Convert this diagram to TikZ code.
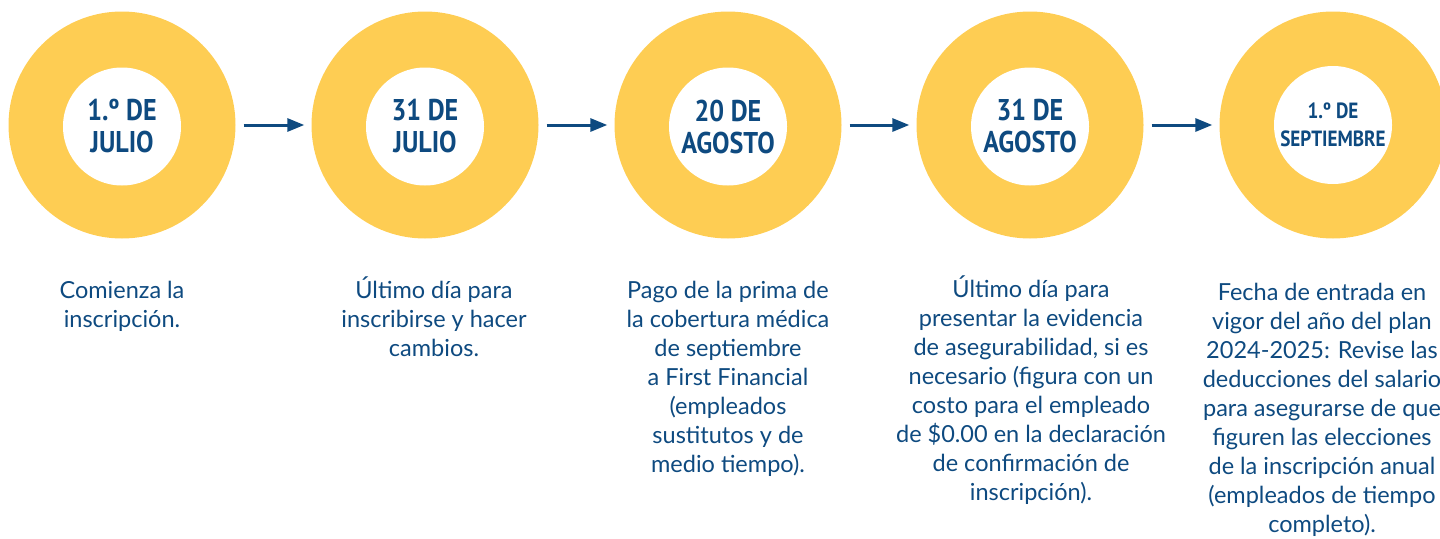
\documentclass[tikz,border=0pt]{standalone}
\usepackage{fontspec}
\setmainfont{Lato}
\newfontfamily\datefont[FakeStretch=0.87]{PT Sans}
\usetikzlibrary{arrows.meta}
\definecolor{gold}{RGB}{254,205,83}
\definecolor{navy}{RGB}{14,74,128}

\begin{document}
\begin{tikzpicture}[x=1pt, y=-1pt, >={Triangle[length=17pt,width=13pt]}]
\tikzstyle{ring}=[circle, fill=gold, minimum size=227pt, inner sep=0pt]
\tikzstyle{hole}=[circle, fill=white, minimum size=118pt, inner sep=0pt, text=navy, align=center, font=\datefont\bfseries\fontsize{30}{32}\selectfont]
\tikzstyle{note}=[anchor=base, align=center, inner sep=0pt, text=navy, font=\fontsize{23.5}{29}\selectfont]
\tikzstyle{link}=[line width=3pt, ->, color=navy, shorten <=8pt, shorten >=7pt]
\useasboundingbox (0,0) rectangle (1440,538);

% the five dates
\node[ring] (r1) at (122,125)  {};
\node[ring] (r2) at (425,125)  {};
\node[ring] (r3) at (728,125)  {};
\node[ring] (r4) at (1030,125) {};
\node[ring] (r5) at (1333,125) {};
\node[hole] (d1) at ([yshift=-1.5pt]r1) {1.º DE\\JULIO};
\node[hole] (d2) at ([yshift=-1.5pt]r2) {31 DE\\JULIO};
\node[hole] (d3) at ([yshift=-1.5pt]r3) {20 DE\\AGOSTO};
\node[hole] (d4) at ([yshift=-1.5pt]r4) {31 DE\\AGOSTO};
\node[hole, font=\datefont\bfseries\fontsize{22}{27.5}\selectfont] (d5) at (r5) {1.º DE\\SEPTIEMBRE};

\draw[link] (r1) -- (r2);
\draw[link] (r2) -- (r3);
\draw[link] (r3) -- (r4);
\draw[link] (r4) -- (r5);

% what happens on each date (placed by the baseline of the last line)
\node[note] (t1) at (122,327)  {Comienza la\\inscripción.};
\node[note] (t2) at (434,356)  {Último día para\\inscribirse y hacer\\cambios.};
\node[note] (t3) at (728,472)  {Pago de la prima de\\la cobertura médica\\de septiembre\\a First Financial\\(empleados\\sustitutos y de\\medio tiempo).};
\node[note] (t4) at (1031,500) {Último día para\\presentar la evidencia\\de asegurabilidad, si es\\necesario (figura con un\\costo para el empleado\\de \$0.00 en la declaración\\de confirmación de\\inscripción).};
\node[note] (t5) at (1322,532) {Fecha de entrada en\\vigor del año del plan\\2024-2025: Revise las\\deducciones del salario\\para asegurarse de que\\figuren las elecciones\\de la inscripción anual\\(empleados de tiempo\\completo).};
\end{tikzpicture}
\end{document}
